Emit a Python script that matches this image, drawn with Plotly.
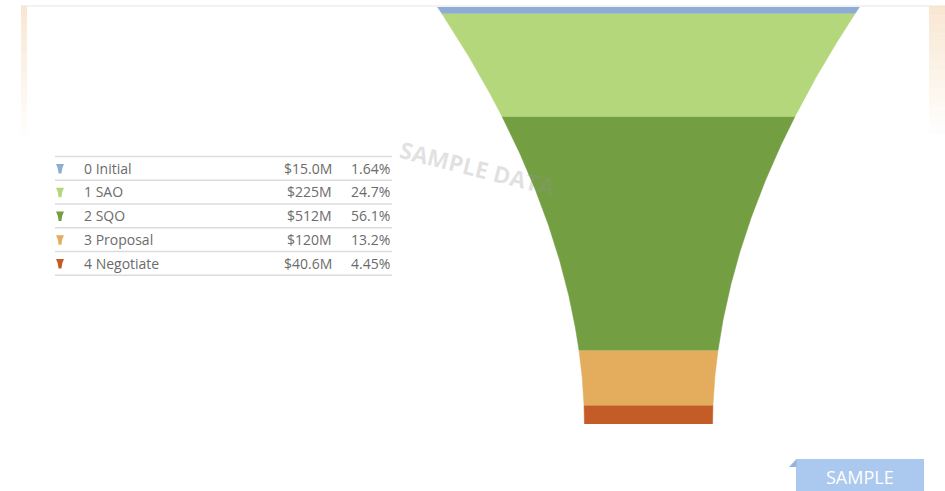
import numpy as np
import plotly.graph_objects as go

# ---------------- data ----------------
stages = ["0 Initial", "1 SAO", "2 SQO", "3 Proposal", "4 Negotiate"]
values = [15.0, 225, 512, 120, 40.6]          # $M
value_labels = ["$15.0M", "$225M", "$512M", "$120M", "$40.6M"]
percent_labels = ["1.64%", "24.7%", "56.1%", "13.2%", "4.45%"]
colors = ["#8eadd6", "#b4d77b", "#739e41", "#e4ad5e", "#c45c27"]

# ---------------- style constants ----------------
W, H = 945, 491
FUNNEL_TOP, FUNNEL_BOT = 7, 424          # px
CENTER_X = 648.5                          # px
NECK_HW, FLARE_HW, FLARE_POW = 64.0, 147.0, 1.9   # funnel outline shape
FONT = "Open Sans, Noto Sans, sans-serif"
TEXT_COLOR = "#6b6b6b"


def px(x):
    return x / W


def py(y):
    return 1 - y / H


total = float(np.sum(values))
cum = np.concatenate([[0.0], np.cumsum(values)])


def half_width(v):
    s = np.asarray(v) / total
    return NECK_HW + FLARE_HW * (1 - s) ** FLARE_POW


fig = go.Figure()

for i, name in enumerate(stages):
    ys = np.linspace(cum[i], cum[i + 1], 80)
    hw = half_width(ys)
    x = np.concatenate([-hw, hw[::-1]])
    y = np.concatenate([ys, ys[::-1]])
    fig.add_trace(go.Scatter(
        x=x, y=y, mode="lines", fill="toself", fillcolor=colors[i],
        line=dict(color=colors[i], width=0.6), hoverinfo="skip",
        name=name, showlegend=False,
    ))

shapes = []
annotations = []

# top border line of panel
shapes.append(dict(type="line", xref="paper", yref="paper", x0=px(21), x1=px(945),
                   y0=py(6), y1=py(6), line=dict(color="#e6e6e6", width=1.2), layer="below"))

# faint orange gradient strips at the edges
n_steps = 14
for k in range(n_steps):
    a = 0.75 * (1 - k / n_steps)
    y0 = 6 + k * (128 / n_steps)
    y1 = 6 + (k + 1) * (128 / n_steps)
    for (xa, xb) in [(21, 27), (929, 945)]:
        shapes.append(dict(type="rect", xref="paper", yref="paper",
                           x0=px(xa), x1=px(xb), y0=py(y1), y1=py(y0),
                           fillcolor=f"rgba(246,224,196,{a:.3f})", line=dict(width=0),
                           layer="below"))

# legend table
row_y0, row_step = 168.0, 23.75
line_x0, line_x1 = 55, 392
for i, name in enumerate(stages):
    cy = row_y0 + i * row_step
    shapes.append(dict(type="line", xref="paper", yref="paper", x0=px(line_x0), x1=px(line_x1),
                       y0=py(cy - 11.5), y1=py(cy - 11.5), line=dict(color="#dcdcdc", width=1.5)))
    # small funnel icon
    path = (f"M {px(56)} {py(cy - 4)} L {px(64)} {py(cy - 4)} "
            f"Q {px(61.7)} {py(cy)} {px(61.4)} {py(cy + 5.5)} L {px(58.6)} {py(cy + 5.5)} "
            f"Q {px(58.3)} {py(cy)} {px(56)} {py(cy - 4)} Z")
    shapes.append(dict(type="path", xref="paper", yref="paper", path=path,
                       fillcolor=colors[i], line=dict(width=0)))
    annotations.append(dict(x=px(82), y=py(cy), xref="paper", yref="paper", text=name,
                            xanchor="left", yanchor="middle", showarrow=False,
                            font=dict(family=FONT, size=14, color=TEXT_COLOR)))
    annotations.append(dict(x=px(334), y=py(cy), xref="paper", yref="paper", text=value_labels[i],
                            xanchor="right", yanchor="middle", showarrow=False,
                            font=dict(family=FONT, size=14, color=TEXT_COLOR)))
    annotations.append(dict(x=px(392), y=py(cy), xref="paper", yref="paper", text=percent_labels[i],
                            xanchor="right", yanchor="middle", showarrow=False,
                            font=dict(family=FONT, size=14, color=TEXT_COLOR)))
last = row_y0 + len(stages) * row_step - 11.5
shapes.append(dict(type="line", xref="paper", yref="paper", x0=px(line_x0), x1=px(line_x1),
                   y0=py(last), y1=py(last), line=dict(color="#dcdcdc", width=1.5)))

# watermark
annotations.append(dict(x=px(477), y=py(168), xref="paper", yref="paper",
                        text="<b>SAMPLE DATA</b>", textangle=14, showarrow=False,
                        xanchor="center", yanchor="middle",
                        font=dict(family=FONT, size=23, color="rgba(150,150,150,0.28)")))

# SAMPLE badge
shapes.append(dict(type="rect", xref="paper", yref="paper", x0=px(796), x1=px(924),
                   y0=py(491), y1=py(459), fillcolor="#abc9ee", line=dict(width=0)))
shapes.append(dict(type="path", xref="paper", yref="paper",
                   path=f"M {px(789)} {py(467)} L {px(796.5)} {py(459)} L {px(796.5)} {py(467)} Z",
                   fillcolor="#94b4de", line=dict(width=0)))
annotations.append(dict(x=px(860), y=py(477), xref="paper", yref="paper", text="SAMPLE",
                        showarrow=False, xanchor="center", yanchor="middle",
                        font=dict(family=FONT, size=18, color="#ffffff")))

fig.update_layout(
    width=W, height=H,
    margin=dict(l=0, r=0, t=0, b=0),
    paper_bgcolor="#ffffff", plot_bgcolor="rgba(0,0,0,0)",
    xaxis=dict(domain=[0, 1], range=[-CENTER_X, W - CENTER_X], visible=False, fixedrange=True),
    yaxis=dict(domain=[py(FUNNEL_BOT), py(FUNNEL_TOP)], range=[total, 0], visible=False, fixedrange=True),
    shapes=shapes, annotations=annotations, showlegend=False,
)

fig.write_html("out.html", config={"displayModeBar": False},
               post_script="document.body.style.margin='0';document.body.style.overflow='hidden';")
